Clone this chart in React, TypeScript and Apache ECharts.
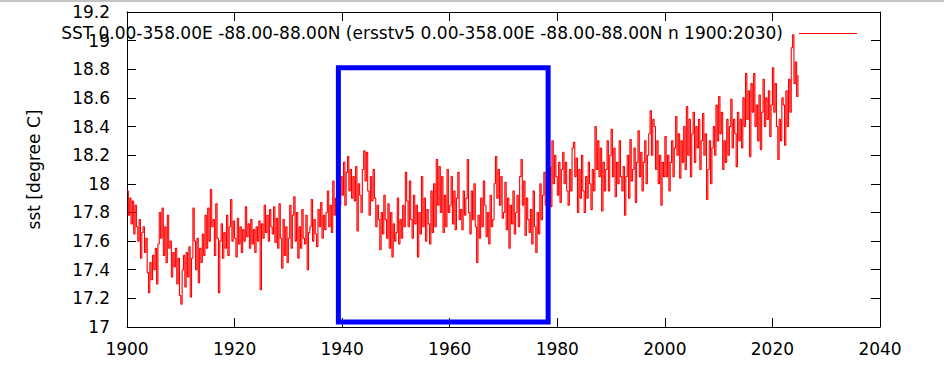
import React, { useEffect, useRef } from "react";
import * as echarts from "echarts";

// ---- data ----
const startYear = 1900;
const samplesPerYear = 4;
const sstValues: number[] = [
  // 1900-1909
  17.95, 17.78, 17.9, 17.72, 17.88, 17.65, 17.85, 17.7, 17.6, 17.75, 17.48, 17.66,
  17.7, 17.52, 17.62, 17.38, 17.24, 17.45, 17.33, 17.5, 17.4, 17.55, 17.3, 17.58,
  17.8, 17.62, 17.83, 17.5, 17.7, 17.45, 17.78, 17.55, 17.6, 17.35, 17.52, 17.42,
  17.55, 17.3, 17.48, 17.22,
  // 1910-1919
  17.16, 17.4, 17.5, 17.28, 17.52, 17.35, 17.56, 17.21, 17.48, 17.83, 17.6, 17.4,
  17.62, 17.31, 17.55, 17.45, 17.65, 17.5, 17.78, 17.55, 17.83, 17.6, 17.96, 17.7,
  17.75, 17.5, 17.86, 17.62, 17.24, 17.6, 17.72, 17.48, 17.66, 17.55, 17.78, 17.5,
  17.7, 17.89, 17.6, 17.74,
  // 1920-1929
  17.62, 17.49, 17.76, 17.58, 17.7, 17.52, 17.68, 17.6, 17.84, 17.63, 17.72, 17.55,
  17.75, 17.58, 17.68, 17.52, 17.7, 17.6, 17.74, 17.26, 17.72, 17.62, 17.85, 17.66,
  17.78, 17.6, 17.82, 17.7, 17.65, 17.84, 17.59, 17.76, 17.55, 17.86, 17.62, 17.41,
  17.75, 17.5, 17.7, 17.45,
  // 1930-1939
  17.62, 17.85, 17.55, 17.78, 17.91, 17.6, 17.8, 17.48, 17.7, 17.55, 17.82, 17.62,
  17.58, 17.78, 17.4, 17.66, 17.7, 17.89, 17.6, 17.75, 17.65, 17.56, 17.82, 17.7,
  17.87, 17.62, 17.78, 17.68, 17.8, 17.95, 17.7, 17.85, 17.66, 18.02, 17.78, 17.9,
  17.7, 17.95, 17.85, 18.05,
  // 1940-1949
  17.92, 18.15, 17.85, 18.08, 18.19, 17.95, 18.1, 17.9, 18.05, 17.88, 18.12, 17.67,
  18.0, 17.92, 17.8, 18.1, 18.23, 18.02, 18.22, 17.95, 17.78, 18.05, 17.88, 18.1,
  17.9, 17.7, 17.85, 17.75, 17.54, 17.8, 17.65, 17.92, 17.75, 17.62, 17.86, 17.55,
  17.8, 17.49, 17.72, 17.6,
  // 1950-1959
  17.66, 17.9, 17.58, 17.75, 17.62, 17.85, 17.7, 18.08, 17.88, 17.7, 18.02, 17.75,
  17.62, 17.92, 17.72, 17.85, 17.49, 17.8, 17.65, 18.05, 17.7, 17.9, 17.6, 17.82,
  17.72, 17.58, 17.95, 17.66, 18.0, 17.7, 18.17, 17.85, 18.12, 17.8, 18.05, 17.66,
  17.92, 17.7, 18.1, 17.8,
  // 1960-1969
  17.85, 18.05, 17.72, 17.95, 17.68, 17.9, 18.08, 17.75, 17.82, 17.68, 17.95, 17.78,
  17.9, 18.17, 17.8, 17.65, 17.95, 17.75, 18.0, 17.7, 17.45, 17.78, 17.62, 17.9,
  17.7, 18.02, 17.85, 17.63, 17.8, 17.58, 17.92, 17.7, 17.75, 18.0, 18.19, 17.9,
  18.1, 17.85, 18.05, 17.76,
  // 1970-1979
  17.8, 18.01, 17.68, 17.9, 17.55, 17.85, 17.72, 17.95, 17.65, 17.8, 17.92, 17.7,
  18.05, 18.17, 17.85, 18.02, 17.64, 17.9, 17.75, 17.66, 17.82, 17.58, 17.95, 17.7,
  17.52, 17.8, 17.65, 18.0, 17.75, 17.92, 18.08, 17.85, 18.15, 17.9, 18.12, 17.84,
  18.3, 18.0, 18.2, 18.05,
  // 1980-1989
  17.92, 18.15, 17.87, 18.1, 18.22, 18.0, 18.15, 17.95, 17.85, 18.1, 17.95, 18.25,
  18.29, 18.05, 18.18, 17.8, 18.1, 17.9, 18.2, 17.95, 17.8, 18.05, 17.9, 18.15,
  18.0, 17.82, 18.1, 17.95, 18.4, 18.1, 18.3, 18.05, 18.25, 17.81, 18.15, 17.95,
  18.1, 18.3, 17.95, 18.2,
  // 1990-1999
  18.38, 18.05, 18.25, 17.91, 18.15, 18.0, 18.3, 18.05, 17.95, 18.12, 17.78, 18.05,
  18.2, 17.9, 18.31, 18.02, 18.1, 18.25, 17.87, 18.15, 18.37, 18.05, 18.22, 17.95,
  18.15, 18.3, 18.0, 18.2, 18.35, 18.51, 18.2, 18.45, 18.4, 18.1, 18.3, 18.0,
  18.2, 17.85, 18.15, 18.05,
  // 2000-2009
  18.33, 18.05, 18.2, 17.95, 18.15, 18.3, 18.05, 18.25, 18.47, 18.2, 18.35, 18.04,
  18.3, 18.15, 18.4, 18.1, 18.54, 18.2, 18.45, 18.05, 18.35, 18.5, 18.15, 18.4,
  18.25, 18.45, 18.1, 18.3, 18.49, 18.2, 18.35, 17.89, 18.1, 18.3, 18.0, 18.25,
  18.4, 18.2, 18.55, 18.3,
  // 2010-2019
  18.61, 18.35, 18.5, 18.1, 18.3, 18.15, 18.45, 18.2, 18.4, 18.59, 18.25, 18.45,
  18.35, 18.12, 18.5, 18.3, 18.45, 18.25, 18.6, 18.4, 18.77, 18.45, 18.65, 18.19,
  18.7, 18.5, 18.77, 18.4, 18.55, 18.3, 18.62, 18.24, 18.5, 18.73, 18.4, 18.6,
  18.45, 18.65, 18.33, 18.55,
  // 2020-2024
  18.81, 18.5, 18.7, 18.4, 18.17, 18.45, 18.3, 18.6, 18.55, 18.27, 18.65, 18.4,
  18.73, 18.5, 18.95, 19.04, 18.7, 18.85, 18.61, 18.76,
];

const xMin = 1900;
const xMax = 2040;
const xStep = 20;
const yMin = 17;
const yMax = 19.2;
const yStep = 0.2;

const boxYears = [1939.3, 1978.3];
const boxValues = [17.035, 18.81];

const seriesName =
  "SST 0.00-358.00E -88.00-88.00N (ersstv5 0.00-358.00E -88.00-88.00N n 1900:2030)";
const yName = "sst [degree C]";

const FONT = "DejaVu Sans";

export default function App() {
  const ref = useRef<HTMLDivElement>(null);

  useEffect(() => {
    if (!ref.current) return;
    const chart = echarts.init(ref.current, undefined, { renderer: "svg" });

    const lineData = sstValues.map((v, i) => [startYear + i / samplesPerYear, v]);
    const boxData = [
      [boxYears[0], boxValues[0]],
      [boxYears[0], boxValues[1]],
      [boxYears[1], boxValues[1]],
      [boxYears[1], boxValues[0]],
      [boxYears[0], boxValues[0]],
    ];

    const tickStyle = { show: true, inside: true, length: 9, lineStyle: { color: "#000", width: 1 } };
    const lineStyleAxis = { show: true, onZero: false, lineStyle: { color: "#000", width: 1 } };
    const labelStyle = { color: "#000", fontFamily: FONT, fontSize: 17 };

    chart.setOption({
      animation: false,
      backgroundColor: "#fff",
      grid: { left: 127, top: 12, right: 64, bottom: 64, containLabel: false },
      xAxis: [
        {
          type: "value",
          min: xMin,
          max: xMax,
          interval: xStep,
          position: "bottom",
          axisLine: lineStyleAxis,
          axisTick: tickStyle,
          axisLabel: { ...labelStyle, margin: 13, formatter: (v: number) => String(v) },
          splitLine: { show: false },
        },
        {
          type: "value",
          min: xMin,
          max: xMax,
          interval: xStep,
          position: "top",
          axisLine: lineStyleAxis,
          axisTick: tickStyle,
          axisLabel: { show: false },
          splitLine: { show: false },
        },
      ],
      yAxis: [
        {
          type: "value",
          min: yMin,
          max: yMax,
          interval: yStep,
          position: "left",
          name: yName,
          nameLocation: "middle",
          nameGap: 85,
          nameTextStyle: { ...labelStyle },
          axisLine: lineStyleAxis,
          axisTick: tickStyle,
          axisLabel: {
            ...labelStyle,
            margin: 17,
            formatter: (v: number) => String(Math.round(v * 10) / 10),
          },
          splitLine: { show: false },
        },
        {
          type: "value",
          min: yMin,
          max: yMax,
          interval: yStep,
          position: "right",
          axisLine: lineStyleAxis,
          axisTick: tickStyle,
          axisLabel: { show: false },
          splitLine: { show: false },
        },
      ],
      series: [
        {
          name: seriesName,
          type: "line",
          data: lineData,
          step: "end",
          showSymbol: false,
          symbol: "none",
          lineStyle: { color: "#ff0000", width: 1.1 },
          z: 2,
        },
        {
          name: "box",
          type: "line",
          data: boxData,
          showSymbol: false,
          symbol: "none",
          lineStyle: { color: "#0000ff", width: 5, cap: "square", join: "miter" },
          z: 3,
        },
      ],
      graphic: [
        {
          type: "rect",
          shape: { x: 0, y: 0, width: 944, height: 2 },
          style: { fill: "#c4c4c4" },
          z: 10,
        },
        {
          type: "text",
          x: 783,
          y: 33,
          style: {
            text: seriesName,
            textAlign: "right",
            textVerticalAlign: "middle",
            fontFamily: FONT,
            fontSize: 17,
            fill: "#000",
          },
          z: 10,
        },
        {
          type: "line",
          shape: { x1: 799, y1: 33.5, x2: 857, y2: 33.5 },
          style: { stroke: "#ff0000", lineWidth: 1 },
          z: 10,
        },
      ],
    });

    return () => chart.dispose();
  }, []);

  return (
    <div
      ref={ref}
      style={{ position: "fixed", left: 0, top: 0, width: 944, height: 391, background: "#fff" }}
    />
  );
}
